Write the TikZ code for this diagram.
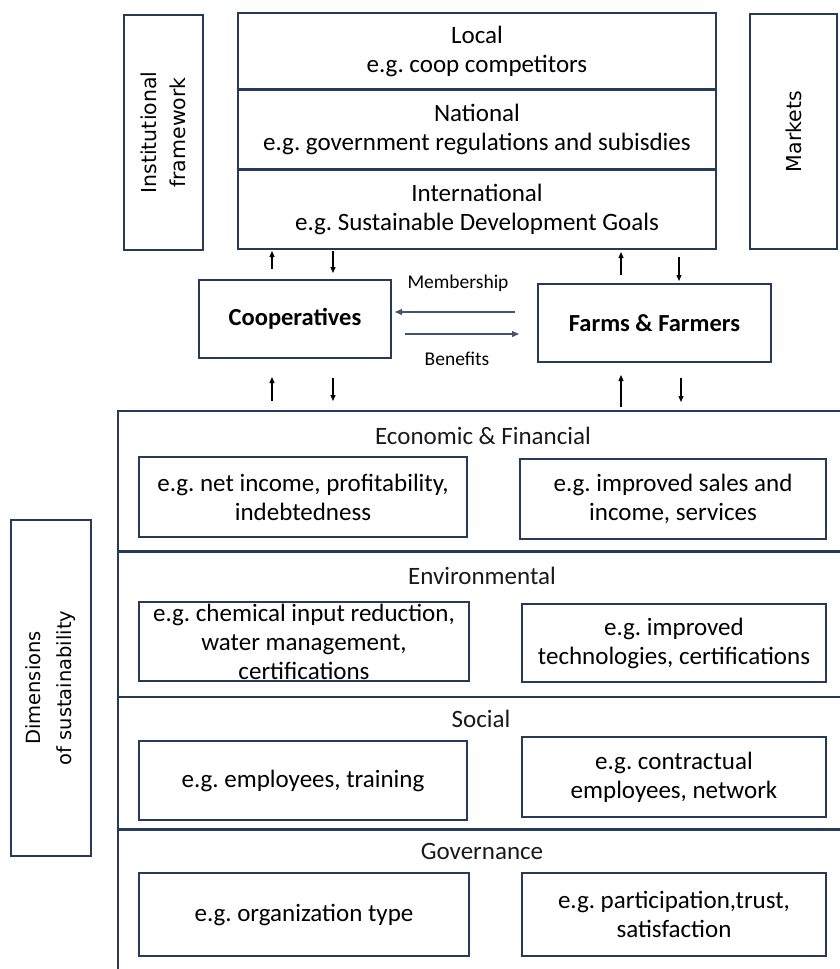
\documentclass[tikz,border=0pt]{standalone}
\usepackage{fontspec}
\setmainfont{Carlito}
\newfontfamily\vfont{DejaVu Sans}
\usetikzlibrary{fit,arrows.meta}
\frenchspacing
\definecolor{navy}{RGB}{38,58,92}
\definecolor{slate}{RGB}{68,84,112}
\tikzset{
  box/.style={draw=navy,line width=1.5bp,inner sep=0pt,fill=none},
  txt/.style={align=center,inner sep=0pt,font={\fontsize{25bp}{29bp}\selectfont}},
  head/.style={txt,text=black!90},
  bold/.style={txt,font={\fontsize{24.5bp}{29bp}\selectfont\bfseries}},
  small/.style={align=center,inner sep=0pt,font={\fontsize{19.5bp}{22bp}\selectfont}},
  vtxt/.style={align=center,inner sep=0pt,rotate=90,font={\vfont\fontsize{20.5bp}{29bp}\selectfont}},
  vtxtb/.style={vtxt,font={\vfont\fontsize{19.5bp}{31bp}\selectfont}},
  sarrow/.style={line width=1.2bp,-{Triangle[length=6bp,width=5bp]}},
  barrow/.style={draw=slate,line width=1.3bp,-{Triangle[length=7bp,width=6bp]}},
  divthick/.style={draw=navy,line width=3bp},
  divthin/.style={draw=navy,line width=2bp},
  frame/.style={draw=navy,line width=1.8bp}
}
\begin{document}
\begin{tikzpicture}[x=1bp,y=-1bp]
\useasboundingbox (0,0) rectangle (840,969);
% top side boxes
\node[box,fit={(124,15) (203,250)}] (inst) {};
\node[vtxt] (instt) at (inst.center) {Institutional\\framework};
\node[box,fit={(750,14) (837,249)}] (mkt) {};
\node[vtxt] (mktt) at (mkt.center) {Markets};
% top stack
\node[box,fit={(238,13) (716,89)}] (local) {};
\node[box,fit={(238,89) (716,169)}] (national) {};
\node[box,fit={(238,169) (716,249)}] (intl) {};
\draw[divthick] (local.south west) -- (local.south east);
\draw[divthick] (national.south west) -- (national.south east);
\node[txt] (localt) at (local.center) {Local\\e.g. coop competitors};
\node[txt] (nationalt) at (national.center) {National\\e.g. government regulations and subisdies};
\node[txt] (intlt) at (intl.center) {International\\e.g. Sustainable Development Goals};
% middle boxes
\node[box,fit={(199,280) (391,358)}] (coop) {};
\node[bold] (coopt) at (coop.center) {Cooperatives};
\node[box,fit={(538,284) (771,362)}] (farm) {};
\node[bold] (farmt) at (farm.center) {Farms \& Farmers};
\node[small] (mem) at (458,283) {Membership};
\node[small] (ben) at (457,359) {Benefits};
\coordinate (m1) at (515,312); \coordinate (m2) at (395,312);
\coordinate (b1) at (405,334); \coordinate (b2) at (519,334);
\draw[barrow] (m1) -- (m2);
\draw[barrow] (b1) -- (b2);
% small arrows upper
\coordinate (u1s) at (272,269); \coordinate (u1e) at (272,251);
\coordinate (d1s) at (333,251); \coordinate (d1e) at (333,273);
\coordinate (u2s) at (621,275); \coordinate (u2e) at (621,252);
\coordinate (d2s) at (679,257); \coordinate (d2e) at (679,281);
\draw[sarrow] (u1s) -- (u1e);
\draw[sarrow] (d1s) -- (d1e);
\draw[sarrow] (u2s) -- (u2e);
\draw[sarrow] (d2s) -- (d2e);
% small arrows lower
\coordinate (u3s) at (272,401); \coordinate (u3e) at (272,377);
\coordinate (d3s) at (333,378); \coordinate (d3e) at (333,401);
\coordinate (u4s) at (621,407); \coordinate (u4e) at (621,375);
\coordinate (d4s) at (681,378); \coordinate (d4e) at (681,402);
\draw[sarrow] (u3s) -- (u3e);
\draw[sarrow] (d3s) -- (d3e);
\draw[sarrow] (u4s) -- (u4e);
\draw[sarrow] (d4s) -- (d4e);
% dimensions box
\node[box,fit={(11,520) (91,856)}] (dims) {};
\node[vtxtb] (dimst) at (dims.center) {Dimensions\\of sustainability};
% bottom frame
\coordinate (fa) at (118,411); \coordinate (fb) at (845,411); \coordinate (fc) at (118,975);
\draw[frame] (fb) -- (fa) -- (fc);
\coordinate (l1a) at (118,551); \coordinate (l1b) at (845,551);
\coordinate (l2a) at (118,697); \coordinate (l2b) at (845,697);
\coordinate (l3a) at (118,829); \coordinate (l3b) at (845,829);
\draw[divthick] (l1a) -- (l1b);
\draw[divthin] (l2a) -- (l2b);
\draw[divthick] (l3a) -- (l3b);
% headings
\node[head] (h1) at (483,436) {Economic \& Financial};
\node[head] (h2) at (482,576) {Environmental};
\node[head] (h3) at (481,719) {Social};
\node[head] (h4) at (482,851) {Governance};
% inner boxes
\node[box,fit={(139,457) (467,537)}] (econL) {};
\node[txt] (econLt) at (econL.center) {e.g. net income, profitability,\\indebtedness};
\node[box,fit={(520,459) (826,539)}] (econR) {};
\node[txt] (econRt) at (econR.center) {e.g. improved sales and\\income, services};
\node[box,fit={(139,602) (469,681)}] (envL) {};
\node[txt] (envLt) at (envL.center) {e.g. chemical input reduction,\\water management,\\certifications};
\node[box,fit={(522,604) (826,682)}] (envR) {};
\node[txt] (envRt) at (envR.center) {e.g. improved\\technologies, certifications};
\node[box,fit={(139,741) (467,820)}] (socL) {};
\node[txt] (socLt) at (socL.center) {e.g. employees, training};
\node[box,fit={(522,737) (826,817)}] (socR) {};
\node[txt] (socRt) at (socR.center) {e.g. contractual\\employees, network};
\node[box,fit={(139,873) (469,956)}] (govL) {};
\node[txt] (govLt) at (govL.center) {e.g. organization type};
\node[box,fit={(522,873) (826,956)}] (govR) {};
\node[txt] (govRt) at (govR.center) {e.g. participation,trust,\\satisfaction};
\end{tikzpicture}
\end{document}
